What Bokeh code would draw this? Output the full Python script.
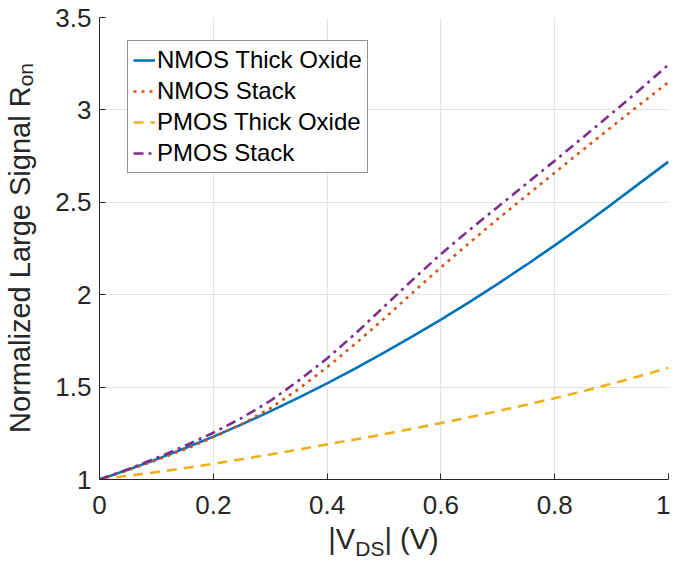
from bokeh.plotting import figure
from bokeh.models import Range1d, FixedTicker, Legend, LegendItem, Div
from bokeh.layouts import row, column
from bokeh.embed import file_html
from bokeh.resources import INLINE

# ---- data ----
vds = [0.0, 0.05, 0.1, 0.15, 0.2, 0.25, 0.3, 0.35, 0.4, 0.45, 0.5,
       0.55, 0.6, 0.65, 0.7, 0.75, 0.8, 0.85, 0.9, 0.95, 1.0]
nmos_thick = [1.000, 1.053, 1.109, 1.169, 1.232, 1.298, 1.369, 1.443, 1.520, 1.601, 1.686,
              1.774, 1.865, 1.960, 2.059, 2.161, 2.267, 2.376, 2.489, 2.605, 2.720]
nmos_stack = [1.000, 1.050, 1.105, 1.163, 1.228, 1.300, 1.385, 1.490, 1.608, 1.735, 1.870,
              2.010, 2.148, 2.280, 2.410, 2.535, 2.660, 2.785, 2.908, 3.030, 3.150]
pmos_thick = [1.000, 1.020, 1.040, 1.062, 1.085, 1.110, 1.135, 1.162, 1.190, 1.217, 1.245,
              1.275, 1.305, 1.337, 1.370, 1.404, 1.440, 1.478, 1.518, 1.560, 1.605]
pmos_stack = [1.000, 1.056, 1.116, 1.182, 1.253, 1.333, 1.425, 1.535, 1.655, 1.790, 1.935,
              2.080, 2.220, 2.350, 2.475, 2.600, 2.725, 2.852, 2.980, 3.110, 3.245]

x_ticks = [0, 0.2, 0.4, 0.6, 0.8, 1.0]
x_tick_labels = ["0", "0.2", "0.4", "0.6", "0.8", "1"]
y_ticks = [1, 1.5, 2, 2.5, 3, 3.5]
y_tick_labels = ["1", "1.5", "2", "2.5", "3", "3.5"]

series_names = ["NMOS Thick Oxide", "NMOS Stack", "PMOS Thick Oxide", "PMOS Stack"]
colors = ["#0072BD", "#D95319", "#EDB120", "#7E2F8E"]
dashes = ["solid", "3 5", "10 7", "10 5 3 5"]

FONT = "Liberation Sans"
TXT = "#262626"

TOTAL_W, TOTAL_H = 670, 548
YL_W = 44                 # width of the y-label strip
XL_H = 19                 # height of the x-label strip
PW, PH = TOTAL_W - YL_W, TOTAL_H - XL_H
ML, MR, MT, MB = 55, 2, 17, 50

p = figure(width=PW, height=PH, output_backend="svg", toolbar_location=None,
           x_range=Range1d(0, 1), y_range=Range1d(1, 3.5),
           min_border_left=ML, min_border_right=MR, min_border_top=MT,
           min_border_bottom=MB)
p.outline_line_color = None
p.background_fill_color = "white"
p.border_fill_color = "white"

p.xaxis.ticker = FixedTicker(ticks=x_ticks)
p.yaxis.ticker = FixedTicker(ticks=y_ticks)
p.xaxis.major_label_overrides = {t: l for t, l in zip(x_ticks, x_tick_labels)}
p.yaxis.major_label_overrides = {t: l for t, l in zip(y_ticks, y_tick_labels)}
for ax in (p.xaxis, p.yaxis):
    ax.axis_line_color = TXT
    ax.axis_line_width = 1
    ax.major_tick_line_color = TXT
    ax.major_tick_in = 6
    ax.major_tick_out = 0
    ax.minor_tick_line_color = None
    ax.major_label_text_font = FONT
    ax.major_label_text_font_size = "26px"
    ax.major_label_text_color = TXT
p.xaxis.major_label_standoff = 16
p.yaxis.major_label_standoff = 8
p.grid.grid_line_color = "#e3e3e3"
p.grid.grid_line_width = 1

rs = []
for yv, c, d in zip([nmos_thick, nmos_stack, pmos_thick, pmos_stack], colors, dashes):
    r = p.line(vds, yv, line_color=c, line_width=2.6, line_dash=d, line_cap="butt")
    rs.append(r)

frame_h = PH - MT - MB
legend = Legend(items=[LegendItem(label=n, renderers=[r]) for n, r in zip(series_names, rs)],
                location=(28, frame_h - 28 - 128))
legend.margin = 0
legend.padding = 5
legend.spacing = 3
legend.glyph_width = 22
legend.glyph_height = 24
legend.label_height = 24
legend.label_standoff = 2
legend.label_text_font = FONT
legend.label_text_font_size = "24px"
legend.label_text_color = "black"
legend.border_line_color = TXT
legend.border_line_width = 1
legend.background_fill_color = "white"
legend.background_fill_alpha = 1.0
p.add_layout(legend)

# ---- axis labels with subscripts, as HTML text ----
frame_top = MT
ylabel_html = (
    f'<div style="position:relative;width:{YL_W}px;height:{PH}px;background:white;">'
    f'<div style="position:absolute;left:8px;top:{frame_top}px;width:29px;height:{frame_h}px;'
    f'display:flex;align-items:center;justify-content:center;">'
    f'<div style="writing-mode:vertical-rl;transform:rotate(180deg);white-space:nowrap;'
    f'font-family:\'{FONT}\';font-size:29px;line-height:29px;color:{TXT};">'
    f'Normalized Large Signal R<span style="font-size:21px;vertical-align:-6px;">on</span>'
    f'</div></div></div>'
)
xlabel_html = (
    f'<div style="position:relative;width:{TOTAL_W}px;height:{XL_H}px;">'
    f'<div style="position:absolute;left:0;top:-4px;width:{TOTAL_W}px;box-sizing:border-box;'
    f'padding-left:{YL_W + ML}px;padding-right:{MR}px;text-align:center;white-space:nowrap;'
    f'font-family:\'{FONT}\';font-size:29px;line-height:29px;color:{TXT};">'
    f'|V<span style="font-size:21px;vertical-align:-7px;">DS</span>| (V)'
    f'</div></div>'
)
ydiv = Div(text=ylabel_html, width=YL_W, height=PH, margin=0)
xdiv = Div(text=xlabel_html, width=TOTAL_W, height=XL_H, margin=0)

layout = column(row(ydiv, p, spacing=0), xdiv, spacing=0)

open("out.html", "w").write(file_html(layout, INLINE))
